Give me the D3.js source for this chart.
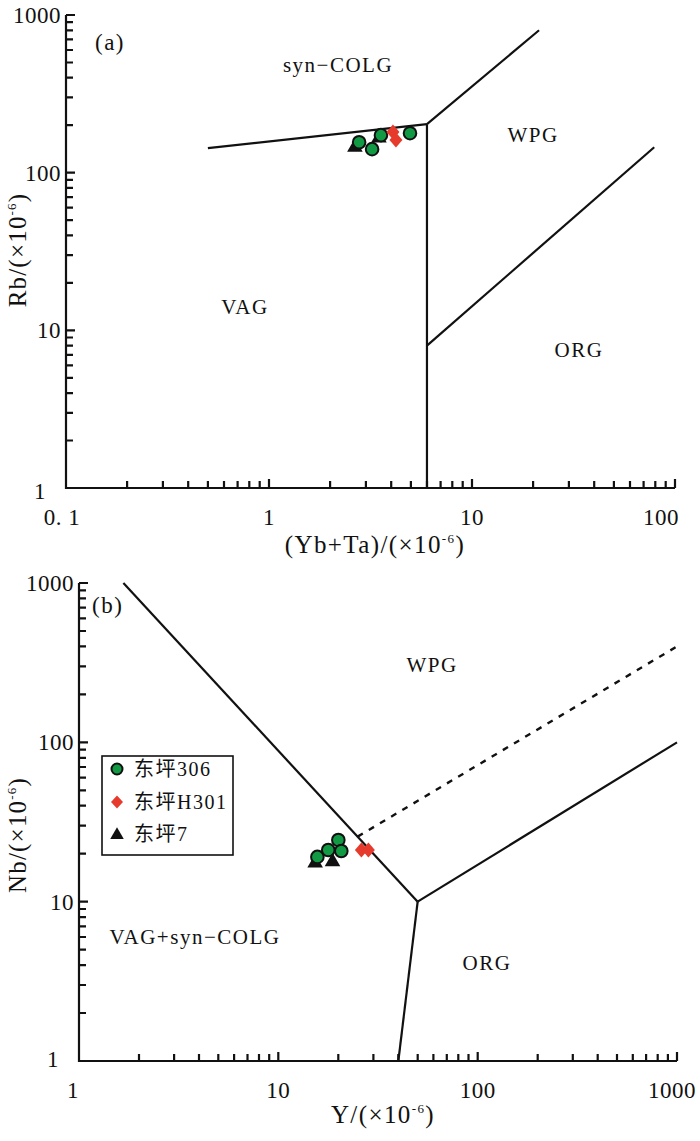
<!DOCTYPE html>
<html>
<head>
<meta charset="utf-8">
<script src="https://cdn.jsdelivr.net/npm/d3@7"></script>
<style>
  body { margin: 0; background: #fff; }
  text { font-family: "Liberation Serif", "Noto Sans CJK SC", serif; fill: #111; }
</style>
</head>
<body>
<svg width="700" height="1141"></svg>
<script>
// ---- data ----
// panel (a): Rb vs (Yb+Ta)
var aXTicks = [0.1, 0.2, 0.3, 0.4, 0.5, 0.6, 0.7, 0.8, 0.9,
               1, 2, 3, 4, 5, 6, 7, 8, 9,
               10, 20, 30, 40, 50, 60, 70, 80, 90, 100];
var aYTicks = [1, 2, 3, 4, 5, 6, 7, 8, 9,
               10, 20, 30, 40, 50, 60, 70, 80, 90,
               100, 200, 300, 400, 500, 600, 700, 800, 900, 1000];
var aXLabels = [0.1, 1, 10, 100];
var aYLabels = [1, 10, 100, 1000];
var aBoundaries = [
  [[0.5, 143], [6, 203]],
  [[6, 203], [6, 1]],
  [[6, 203], [21.4, 800]],
  [[6, 8], [79, 145]]
];
var a306 = [[2.78, 156], [3.22, 141], [3.56, 173], [4.95, 178]];
var aH301 = [[4.08, 181], [4.22, 161]];
var a7 = [[2.65, 145], [3.48, 166]];

// panel (b): Nb vs Y
var bXTicks = [1, 2, 3, 4, 5, 6, 7, 8, 9,
               10, 20, 30, 40, 50, 60, 70, 80, 90,
               100, 200, 300, 400, 500, 600, 700, 800, 900, 1000];
var bYTicks = bXTicks.slice();
var bXLabels = [1, 10, 100, 1000];
var bYLabels = [1, 10, 100, 1000];
var bBoundaries = [
  [[1.67, 1000], [50, 10]],
  [[50, 10], [40, 1]],
  [[50, 10], [1000, 100]]
];
var bDashed = [[25, 25.6], [1000, 400]];
var b306 = [[15.7, 19.1], [17.8, 21.1], [20.0, 24.4], [20.7, 20.8]];
var bH301 = [[26.1, 21.1], [28.3, 21.1]];
var b7 = [[15.3, 17.5], [18.7, 17.8]];

var legendNames = ["东坪306", "东坪H301", "东坪7"];

var svg = d3.select("svg");
var GREEN = "#119a43", RED = "#e63a2c";

function diamondPath(w, h) {
  return "M0," + (-h / 2) + "L" + (w / 2) + ",0L0," + (h / 2) + "L" + (-w / 2) + ",0Z";
}
var triPath = d3.symbol().type(d3.symbolTriangle).size(105)();

function fmt(v) { return v === 0.1 ? "0. 1" : String(v); }

function drawPanel(p) {
  var g = svg.append("g");
  var x = d3.scaleLog().domain(p.xDom).range(p.xRange);
  var y = d3.scaleLog().domain([1, 1000]).range(p.yRange);
  var x0 = p.xRange[0], y0 = p.yRange[0];

  // axis lines plus inward ticks in one path (longer at the decades)
  var axisD = "M" + x0 + "," + p.yRange[1] + "V" + y0 + "H" + p.xRange[1];
  p.xTicks.forEach(function (d) {
    var len = p.xLabels.indexOf(d) >= 0 ? 9 : 7;
    axisD += "M" + x(d).toFixed(1) + "," + y0 + "V" + (y0 - len);
  });
  p.yTicks.forEach(function (d) {
    var len = p.yLabels.indexOf(d) >= 0 ? 9 : 7;
    axisD += "M" + x0 + "," + y(d).toFixed(1) + "H" + (x0 + len);
  });
  g.append("path").attr("d", axisD)
    .attr("fill", "none").attr("stroke", "#111").attr("stroke-width", 2.2);

  // tick labels
  g.selectAll(".xl").data(p.xLabels).join("text")
    .attr("x", function (d, i) { return x(d) + (i === 0 ? p.firstXShift : 0) + (i === p.xLabels.length - 1 ? p.lastXShift : 0); })
    .attr("y", y0 + 37)
    .attr("text-anchor", "middle").attr("font-size", 23).attr("letter-spacing", 0.5)
    .text(fmt);
  g.selectAll(".yl").data(p.yLabels).join("text")
    .attr("x", function (d) { return d === 1 ? x0 - 20 : x0 - 5; })
    .attr("y", function (d) { return y(d) + 8 + (d === 1 ? p.oneDrop : 0); })
    .attr("text-anchor", "end").attr("font-size", 23).attr("letter-spacing", 0.5)
    .text(fmt);

  // boundaries
  var line = d3.line().x(function (d) { return x(d[0]); }).y(function (d) { return y(d[1]); });
  g.selectAll(".bd").data(p.boundaries).join("path")
    .attr("d", line).attr("fill", "none").attr("stroke", "#111").attr("stroke-width", 2.2);
  if (p.dashed) {
    g.append("path").attr("d", line(p.dashed)).attr("fill", "none")
      .attr("stroke", "#111").attr("stroke-width", 2.4).attr("stroke-dasharray", "6,7");
  }

  // points: triangles, circles, diamonds
  g.selectAll(".tri").data(p.s7).join("path")
    .attr("d", triPath).attr("fill", "#111")
    .attr("transform", function (d) { return "translate(" + x(d[0]) + "," + y(d[1]) + ")"; });
  g.selectAll(".cir").data(p.s306).join("circle")
    .attr("cx", function (d) { return x(d[0]); }).attr("cy", function (d) { return y(d[1]); })
    .attr("r", 6.3).attr("fill", GREEN).attr("stroke", "#111").attr("stroke-width", 2);
  g.selectAll(".dia").data(p.sH301).join("path")
    .attr("d", diamondPath(13, 15)).attr("fill", RED)
    .attr("transform", function (d) { return "translate(" + x(d[0]) + "," + y(d[1]) + ")"; });

  // region labels
  g.selectAll(".rl").data(p.regions).join("text")
    .attr("x", function (d) { return d[1]; }).attr("y", function (d) { return d[2]; })
    .attr("text-anchor", function (d) { return d[3] || "middle"; })
    .attr("font-size", function (d) { return d[4] || 21; }).attr("letter-spacing", 1.5)
    .text(function (d) { return d[0]; });

  // axis titles
  var xt = g.append("text").attr("x", p.xTitlePos[0]).attr("y", p.xTitlePos[1])
    .attr("text-anchor", "middle").attr("font-size", 25).attr("letter-spacing", 1.4);
  xt.append("tspan").text(p.xTitle + "/(×10");
  xt.append("tspan").attr("font-size", 13).attr("dy", -10).text("-6");
  xt.append("tspan").attr("dy", 10).text(")");
  var yt = g.append("text")
    .attr("transform", "translate(" + p.yTitlePos[0] + "," + p.yTitlePos[1] + ") rotate(-90)")
    .attr("text-anchor", "middle").attr("font-size", 25).attr("letter-spacing", 1.2);
  yt.append("tspan").text(p.yTitle + "/(×10");
  yt.append("tspan").attr("font-size", 13).attr("dy", -10).text("-6");
  yt.append("tspan").attr("dy", 10).text(")");
}

drawPanel({
  xDom: [0.1, 100], xRange: [66, 675], yRange: [488, 15],
  xTicks: aXTicks, yTicks: aYTicks,
  xLabels: aXLabels, yLabels: aYLabels, firstXShift: -4, lastXShift: -14, oneDrop: 3,
  boundaries: aBoundaries,
  s306: a306, sH301: aH301, s7: a7,
  regions: [["(a)", 95, 50, "start", 23], ["syn−COLG", 338, 72], ["WPG", 533, 142], ["VAG", 245, 314], ["ORG", 579, 357]],
  xTitle: "(Yb+Ta)", xTitlePos: [375, 553],
  yTitle: "Rb", yTitlePos: [26, 250]
});

drawPanel({
  xDom: [1, 1000], xRange: [79, 677], yRange: [1061, 583],
  xTicks: bXTicks, yTicks: bYTicks,
  xLabels: bXLabels, yLabels: bYLabels, firstXShift: -6, lastXShift: -5, oneDrop: -2,
  boundaries: bBoundaries, dashed: bDashed,
  s306: b306, sH301: bH301, s7: b7,
  regions: [["(b)", 92, 613, "start", 23], ["WPG", 432, 672], ["VAG+syn−COLG", 195, 944], ["ORG", 487, 970]],
  xTitle: "Y", xTitlePos: [383, 1123],
  yTitle: "Nb", yTitlePos: [26, 835]
});

// legend
var lg = svg.append("g").attr("transform", "translate(102,756)");
lg.append("rect").attr("width", 131).attr("height", 99)
  .attr("fill", "#fff").attr("stroke", "#111").attr("stroke-width", 1.6);
var rowY = [13, 46, 78];
lg.append("circle").attr("cx", 15).attr("cy", rowY[0]).attr("r", 5.5)
  .attr("fill", GREEN).attr("stroke", "#111").attr("stroke-width", 2);
lg.append("path").attr("d", diamondPath(12, 13)).attr("fill", RED)
  .attr("transform", "translate(15," + rowY[1] + ")");
lg.append("path").attr("d", d3.symbol().type(d3.symbolTriangle).size(80)()).attr("fill", "#111")
  .attr("transform", "translate(15," + (rowY[2] + 1) + ")");
lg.selectAll(".lt").data(legendNames).join("text")
  .attr("x", 32).attr("y", function (d, i) { return rowY[i] + 7; })
  .attr("font-size", 20).attr("letter-spacing", 1.5)
  .text(function (d) { return d; });
</script>
</body>
</html>
